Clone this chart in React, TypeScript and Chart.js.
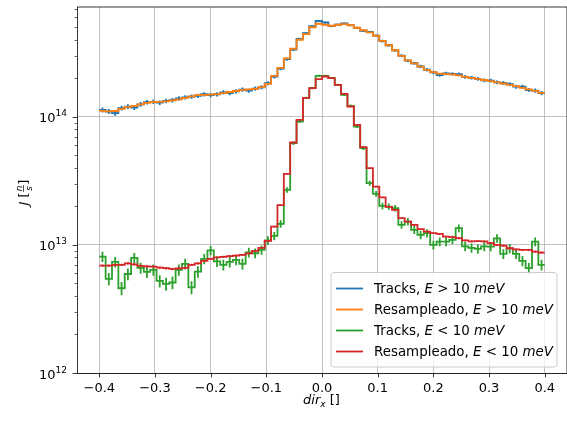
import React, { useEffect, useRef } from 'react';
import { Chart, registerables } from 'chart.js';

Chart.register(...registerables);

// ---------------- data ----------------
const BIN_MIN = -0.4;
const BIN_MAX = 0.4;
const N_BINS = 70;

const X_MIN = -0.44;
const X_MAX = 0.44;
const Y_MIN = 1e12;
const Y_MAX = 7.2e14;

const X_TICKS = [-0.4, -0.3, -0.2, -0.1, 0.0, 0.1, 0.2, 0.3, 0.4];
const Y_MAJOR = [1e12, 1e13, 1e14];

// Tracks, E > 10 meV (blue)
const tracksHigh = [
  1.13e14, 1.10e14, 1.07e14, 1.17e14, 1.20e14, 1.18e14, 1.25e14, 1.30e14, 1.31e14, 1.29e14,
  1.33e14, 1.35e14, 1.39e14, 1.42e14, 1.44e14, 1.46e14, 1.50e14, 1.48e14, 1.50e14, 1.55e14,
  1.53e14, 1.58e14, 1.63e14, 1.60e14, 1.66e14, 1.70e14, 1.83e14, 2.06e14, 2.38e14, 2.82e14,
  3.35e14, 4.05e14, 4.50e14, 5.10e14, 5.60e14, 5.45e14, 5.10e14, 5.25e14, 5.35e14, 5.20e14,
  4.95e14, 4.70e14, 4.60e14, 4.30e14, 3.90e14, 3.62e14, 3.30e14, 3.00e14, 2.75e14, 2.62e14,
  2.47e14, 2.33e14, 2.22e14, 2.12e14, 2.18e14, 2.16e14, 2.15e14, 2.05e14, 2.02e14, 1.98e14,
  1.93e14, 1.92e14, 1.86e14, 1.84e14, 1.80e14, 1.72e14, 1.72e14, 1.62e14, 1.60e14, 1.53e14,
];
const tracksHighErr = [
  0.045, 0.045, 0.046, 0.044, 0.043, 0.043, 0.042, 0.042, 0.041, 0.041,
  0.041, 0.041, 0.040, 0.040, 0.039, 0.039, 0.039, 0.039, 0.039, 0.038,
  0.038, 0.038, 0.037, 0.037, 0.037, 0.036, 0.035, 0.033, 0.031, 0.028,
  0.026, 0.024, 0.022, 0.021, 0.020, 0.020, 0.021, 0.021, 0.020, 0.021,
  0.021, 0.022, 0.022, 0.023, 0.024, 0.025, 0.026, 0.027, 0.029, 0.029,
  0.030, 0.031, 0.032, 0.032, 0.032, 0.032, 0.033, 0.033, 0.033, 0.034,
  0.034, 0.034, 0.035, 0.035, 0.036, 0.036, 0.036, 0.037, 0.038, 0.038,
];

// Resampleado, E > 10 meV (orange)
const resampledHigh = [
  1.114e14, 1.104e14, 1.110e14, 1.155e14, 1.197e14, 1.219e14, 1.252e14, 1.286e14, 1.305e14, 1.310e14,
  1.322e14, 1.346e14, 1.370e14, 1.407e14, 1.446e14, 1.477e14, 1.485e14, 1.491e14, 1.504e14, 1.531e14,
  1.562e14, 1.591e14, 1.616e14, 1.637e14, 1.654e14, 1.706e14, 1.811e14, 2.091e14, 2.414e14, 2.864e14,
  3.398e14, 3.996e14, 4.428e14, 5.004e14, 5.329e14, 5.234e14, 5.141e14, 5.234e14, 5.300e14, 5.186e14,
  4.959e14, 4.741e14, 4.556e14, 4.294e14, 3.910e14, 3.619e14, 3.308e14, 2.996e14, 2.763e14, 2.618e14,
  2.467e14, 2.329e14, 2.234e14, 2.175e14, 2.156e14, 2.144e14, 2.110e14, 2.054e14, 2.017e14, 1.981e14,
  1.939e14, 1.901e14, 1.860e14, 1.820e14, 1.778e14, 1.734e14, 1.685e14, 1.640e14, 1.596e14, 1.540e14,
];

// Tracks, E < 10 meV (green)
const tracksLow = [
  8.10e12, 5.43e12, 7.36e12, 4.59e12, 5.93e12, 7.92e12, 6.61e12, 6.15e12, 6.38e12, 5.23e12,
  4.96e12, 5.09e12, 6.38e12, 7.11e12, 4.66e12, 6.19e12, 7.78e12, 9.06e12, 7.43e12, 6.98e12,
  7.36e12, 7.63e12, 7.11e12, 8.74e12, 8.61e12, 9.14e12, 1.084e13, 1.176e13, 1.459e13, 2.690e13,
  6.23e13, 9.19e13, 1.407e14, 1.676e14, 2.091e14, 2.091e14, 2.006e14, 1.778e14, 1.485e14, 1.219e14,
  8.40e13, 5.69e13, 3.034e13, 2.503e13, 2.017e13, 1.992e13, 1.935e13, 1.433e13, 1.521e13, 1.310e13,
  1.197e13, 1.234e13, 1.000e13, 1.061e13, 1.061e13, 1.094e13, 1.350e13, 9.73e12, 9.47e12, 9.31e12,
  9.73e12, 9.70e12, 1.124e13, 8.51e12, 9.39e12, 8.51e12, 7.50e12, 6.58e12, 1.061e13, 6.98e12,
];
const tracksLowErr = [
  0.090, 0.110, 0.095, 0.120, 0.105, 0.090, 0.100, 0.103, 0.100, 0.110,
  0.115, 0.113, 0.100, 0.096, 0.118, 0.103, 0.091, 0.085, 0.094, 0.097,
  0.094, 0.092, 0.096, 0.086, 0.087, 0.084, 0.077, 0.074, 0.067, 0.049,
  0.032, 0.027, 0.021, 0.020, 0.018, 0.018, 0.018, 0.019, 0.021, 0.023,
  0.028, 0.034, 0.046, 0.051, 0.057, 0.057, 0.058, 0.067, 0.065, 0.070,
  0.074, 0.073, 0.080, 0.078, 0.078, 0.077, 0.069, 0.082, 0.083, 0.083,
  0.082, 0.082, 0.076, 0.087, 0.083, 0.087, 0.093, 0.099, 0.078, 0.096,
];

// Resampleado, E < 10 meV (red)
const resampledLow = [
  6.89e12, 6.89e12, 6.98e12, 6.98e12, 7.17e12, 7.04e12, 6.85e12, 6.79e12, 6.77e12, 6.65e12,
  6.58e12, 6.49e12, 6.55e12, 6.61e12, 6.98e12, 7.17e12, 7.50e12, 7.77e12, 7.98e12, 8.06e12,
  8.18e12, 8.25e12, 8.35e12, 8.58e12, 8.98e12, 9.48e12, 1.075e13, 1.390e13, 2.042e13, 3.587e13,
  6.30e13, 9.48e13, 1.407e14, 1.676e14, 1.970e14, 2.064e14, 2.006e14, 1.778e14, 1.512e14, 1.204e14,
  8.66e13, 5.80e13, 3.97e13, 2.854e13, 2.350e13, 1.981e13, 1.877e13, 1.616e13, 1.521e13, 1.433e13,
  1.326e13, 1.270e13, 1.234e13, 1.219e13, 1.161e13, 1.149e13, 1.128e13, 1.084e13, 1.065e13, 1.071e13,
  1.065e13, 1.033e13, 1.000e13, 9.87e12, 9.42e12, 9.22e12, 9.14e12, 9.14e12, 8.85e12, 8.71e12,
];
const resampledLowErr = [
  0.021, 0.021, 0.021, 0.021, 0.020, 0.021, 0.021, 0.021, 0.021, 0.021,
  0.022, 0.022, 0.022, 0.021, 0.021, 0.020, 0.020, 0.020, 0.019, 0.019,
  0.019, 0.019, 0.019, 0.019, 0.018, 0.018, 0.017, 0.015, 0.012, 0.009,
  0.007, 0.006, 0.005, 0.005, 0.004, 0.004, 0.004, 0.005, 0.005, 0.005,
  0.006, 0.007, 0.009, 0.010, 0.011, 0.012, 0.013, 0.014, 0.014, 0.015,
  0.015, 0.016, 0.016, 0.016, 0.016, 0.016, 0.017, 0.017, 0.017, 0.017,
  0.017, 0.017, 0.018, 0.018, 0.018, 0.018, 0.018, 0.018, 0.018, 0.019,
];

const COLORS = {
  blue: '#1f77b4',
  orange: '#ff7f0e',
  green: '#2ca02c',
  red: '#d62728',
};

type Part = { t: string; i?: boolean; s?: number; dy?: number };

const LEGEND_ITEMS: { color: string; parts: Part[] }[] = [
  { color: COLORS.blue, parts: [{ t: 'Tracks, ' }, { t: 'E', i: true }, { t: ' > 10 ' }, { t: 'meV', i: true }] },
  { color: COLORS.orange, parts: [{ t: 'Resampleado, ' }, { t: 'E', i: true }, { t: ' > 10 ' }, { t: 'meV', i: true }] },
  { color: COLORS.green, parts: [{ t: 'Tracks, ' }, { t: 'E', i: true }, { t: ' < 10 ' }, { t: 'meV', i: true }] },
  { color: COLORS.red, parts: [{ t: 'Resampleado, ' }, { t: 'E', i: true }, { t: ' < 10 ' }, { t: 'meV', i: true }] },
];

// ---------------- helpers ----------------
const FAMILY = '"DejaVu Sans", sans-serif';

const edges: number[] = [];
for (let i = 0; i <= N_BINS; i++) edges.push(BIN_MIN + ((BIN_MAX - BIN_MIN) * i) / N_BINS);

const yTickValues: number[] = [];
for (let e = 12; e <= 14; e++) {
  for (let m = 1; m <= 9; m++) {
    const v = m * Math.pow(10, e);
    if (v <= Y_MAX) yTickValues.push(v);
  }
}

const isMajor = (v: number) => {
  const l = Math.log10(v);
  return Math.abs(l - Math.round(l)) < 1e-9;
};

function stepPoints(values: number[]) {
  const pts = values.map((v, i) => ({ x: edges[i], y: v }));
  pts.push({ x: edges[values.length], y: values[values.length - 1] });
  return pts;
}

function errPoints(values: number[], rel: number[]) {
  const pts: { x: number; y: number | null }[] = [];
  values.forEach((v, i) => {
    const c = (edges[i] + edges[i + 1]) / 2;
    pts.push({ x: c, y: v * (1 - rel[i]) }, { x: c, y: v * (1 + rel[i]) }, { x: c, y: null });
  });
  return pts;
}

const fontOf = (p: Part) => `${p.i ? 'italic ' : ''}${p.s ?? 13}px ${FAMILY}`;

function measureParts(ctx: CanvasRenderingContext2D, parts: Part[]) {
  let w = 0;
  for (const p of parts) {
    ctx.font = fontOf(p);
    w += ctx.measureText(p.t).width;
  }
  return w;
}

function drawParts(ctx: CanvasRenderingContext2D, parts: Part[], x: number, y: number) {
  let cx = x;
  for (const p of parts) {
    ctx.font = fontOf(p);
    ctx.fillText(p.t, cx, y + (p.dy ?? 0));
    cx += ctx.measureText(p.t).width;
  }
  return cx;
}

const decorPlugin = {
  id: 'decor',
  afterDraw(chart: any) {
    const ctx: CanvasRenderingContext2D = chart.ctx;
    const a = chart.chartArea;
    const xs = chart.scales.x;
    const ys = chart.scales.y;
    ctx.save();
    ctx.textAlign = 'left';
    ctx.textBaseline = 'alphabetic';
    ctx.fillStyle = '#000';
    ctx.strokeStyle = '#000';

    // top and right spines
    ctx.lineWidth = 0.8;
    ctx.beginPath();
    ctx.moveTo(a.left, a.top);
    ctx.lineTo(a.right, a.top);
    ctx.moveTo(a.right, a.top);
    ctx.lineTo(a.right, a.bottom);
    ctx.stroke();

    // x tick marks
    ctx.beginPath();
    for (const v of X_TICKS) {
      const px = Math.round(xs.getPixelForValue(v)) + 0.5;
      ctx.moveTo(px, a.bottom);
      ctx.lineTo(px, a.bottom + 4.3);
    }
    ctx.stroke();

    // y tick marks
    for (const v of yTickValues) {
      const py = Math.round(ys.getPixelForValue(v)) + 0.5;
      const major = isMajor(v);
      ctx.lineWidth = major ? 0.8 : 0.6;
      ctx.beginPath();
      ctx.moveTo(a.left - (major ? 4.3 : 2.5), py);
      ctx.lineTo(a.left, py);
      ctx.stroke();
    }

    // y tick labels 10^n
    for (const v of Y_MAJOR) {
      const py = ys.getPixelForValue(v);
      const exp = String(Math.round(Math.log10(v)));
      const parts: Part[] = [{ t: '10' }, { t: exp, s: 9, dy: -6 }];
      const w = measureParts(ctx, parts);
      drawParts(ctx, parts, 67 - w, py + 5.5);
    }

    // x title
    const xt: Part[] = [{ t: 'dir', i: true }, { t: 'x', i: true, s: 9, dy: 2.5 }, { t: ' []' }];
    const xw = measureParts(ctx, xt);
    drawParts(ctx, xt, (a.left + a.right) / 2 - xw / 2 - 0.5, 404);

    // y title (rotated)
    ctx.save();
    ctx.translate(27.5, 192.5);
    ctx.rotate(-Math.PI / 2);
    const pa: Part[] = [{ t: 'J', i: true }, { t: ' [' }];
    const pb: Part[] = [{ t: ']' }];
    ctx.font = fontOf({ t: 'n', i: true, s: 9 });
    const fw = Math.max(ctx.measureText('n').width, ctx.measureText('s').width) + 2;
    const wa = measureParts(ctx, pa);
    const wb = measureParts(ctx, pb);
    let u = -(wa + fw + wb) / 2;
    drawParts(ctx, pa, u, 0);
    u += wa;
    ctx.font = fontOf({ t: 'n', i: true, s: 9 });
    ctx.textAlign = 'center';
    ctx.fillText('n', u + fw / 2, -5.5);
    ctx.fillText('s', u + fw / 2, 4);
    ctx.textAlign = 'left';
    ctx.lineWidth = 0.7;
    ctx.beginPath();
    ctx.moveTo(u + 0.5, -4);
    ctx.lineTo(u + fw - 0.5, -4);
    ctx.stroke();
    u += fw;
    drawParts(ctx, pb, u, 0);
    ctx.restore();

    // legend
    const bx = 331, by = 272.5, bw = 226, bh = 94.5, r = 3;
    ctx.beginPath();
    ctx.moveTo(bx + r, by);
    ctx.lineTo(bx + bw - r, by);
    ctx.quadraticCurveTo(bx + bw, by, bx + bw, by + r);
    ctx.lineTo(bx + bw, by + bh - r);
    ctx.quadraticCurveTo(bx + bw, by + bh, bx + bw - r, by + bh);
    ctx.lineTo(bx + r, by + bh);
    ctx.quadraticCurveTo(bx, by + bh, bx, by + bh - r);
    ctx.lineTo(bx, by + r);
    ctx.quadraticCurveTo(bx, by, bx + r, by);
    ctx.closePath();
    ctx.fillStyle = 'rgba(255,255,255,0.8)';
    ctx.fill();
    ctx.strokeStyle = '#cccccc';
    ctx.lineWidth = 1;
    ctx.stroke();

    LEGEND_ITEMS.forEach((item, k) => {
      const ry = 288.5 + k * 21;
      ctx.strokeStyle = item.color;
      ctx.lineWidth = 1.8;
      ctx.beginPath();
      ctx.moveTo(336, ry);
      ctx.lineTo(363, ry);
      ctx.stroke();
      ctx.fillStyle = '#000';
      drawParts(ctx, item.parts.map((p) => ({ ...p, s: 13.4 })), 374, ry + 4.5);
    });

    ctx.restore();
  },
};

function stepDataset(label: string, values: number[], color: string, order: number) {
  return {
    type: 'line' as const,
    label,
    data: stepPoints(values),
    borderColor: color,
    backgroundColor: color,
    borderWidth: 1.8,
    pointRadius: 0,
    pointHoverRadius: 0,
    fill: false,
    tension: 0,
    stepped: 'before' as const,
    borderJoinStyle: 'miter' as const,
    order,
  };
}

function errDataset(label: string, values: number[], rel: number[], color: string, order: number) {
  return {
    type: 'line' as const,
    label,
    data: errPoints(values, rel),
    borderColor: color,
    backgroundColor: color,
    borderWidth: 1.8,
    pointRadius: 0,
    pointHoverRadius: 0,
    fill: false,
    tension: 0,
    spanGaps: false,
    borderCapStyle: 'butt' as const,
    order,
  };
}

export default function App() {
  const canvasRef = useRef<HTMLCanvasElement | null>(null);

  useEffect(() => {
    if (!canvasRef.current) return;
    const chart = new Chart(canvasRef.current, {
      type: 'line',
      data: {
        datasets: [
          stepDataset('Tracks, E > 10 meV', tracksHigh, COLORS.blue, 7),
          errDataset('err1', tracksHigh, tracksHighErr, COLORS.blue, 6),
          stepDataset('Resampleado, E > 10 meV', resampledHigh, COLORS.orange, 5),
          stepDataset('Tracks, E < 10 meV', tracksLow, COLORS.green, 4),
          errDataset('err3', tracksLow, tracksLowErr, COLORS.green, 3),
          stepDataset('Resampleado, E < 10 meV', resampledLow, COLORS.red, 2),
          errDataset('err4', resampledLow, resampledLowErr, COLORS.red, 1),
        ] as any,
      },
      options: {
        animation: false,
        responsive: false,
        devicePixelRatio: 1,
        events: [],
        layout: { padding: { top: 7, right: 0, left: 0, bottom: 0 } },
        plugins: { legend: { display: false }, tooltip: { enabled: false } },
        scales: {
          x: {
            type: 'linear',
            min: X_MIN,
            max: X_MAX,
            bounds: 'data',
            afterBuildTicks: (s: any) => {
              s.ticks = X_TICKS.map((v) => ({ value: v }));
            },
            afterFit: (s: any) => {
              s.height = 48;
            },
            grid: { color: '#b0b0b0', lineWidth: 0.8, drawTicks: false },
            border: { display: true, color: '#000', width: 0.8 },
            ticks: {
              padding: 8,
              color: '#000',
              font: { family: FAMILY, size: 13 },
              maxRotation: 0,
              autoSkip: false,
              callback: (v: any) => {
                const n = Number(v);
                const s = Math.abs(n).toFixed(1);
                return n < -1e-9 ? '\u2212' + s : s;
              },
            },
          },
          y: {
            type: 'logarithmic',
            min: Y_MIN,
            max: Y_MAX,
            bounds: 'data',
            afterBuildTicks: (s: any) => {
              s.ticks = yTickValues.map((v) => ({ value: v, major: isMajor(v) }));
            },
            afterFit: (s: any) => {
              s.width = 77;
            },
            grid: {
              color: (c: any) => (c.tick && isMajor(c.tick.value) ? '#b0b0b0' : 'rgba(0,0,0,0)'),
              lineWidth: 0.8,
              drawTicks: false,
            },
            border: { display: true, color: '#000', width: 0.8 },
            ticks: { display: false },
          },
        },
      } as any,
      plugins: [decorPlugin as any],
    });
    return () => chart.destroy();
  }, []);

  return (
    <div style={{ position: 'absolute', left: 0, top: 0, width: 567, height: 421, background: '#fff' }}>
      <canvas ref={canvasRef} width={567} height={421} style={{ display: 'block' }} />
    </div>
  );
}
